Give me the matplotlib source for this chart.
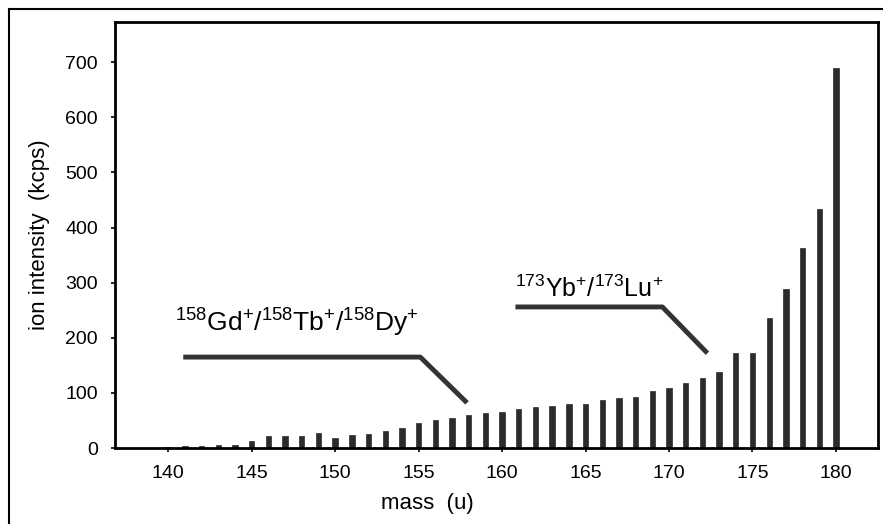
import numpy as np
import matplotlib.pyplot as plt
from matplotlib.lines import Line2D

plt.rcParams['font.family'] = ['Liberation Sans', 'DejaVu Sans']
plt.rcParams['mathtext.fontset'] = 'custom'
plt.rcParams['mathtext.rm'] = 'Liberation Sans'
plt.rcParams['mathtext.it'] = 'Liberation Sans:italic'

# data
mass = np.arange(140, 181)
intensity = [1, 3, 3, 5, 6, 12, 22, 22, 22, 28,
             18, 24, 26, 30, 37, 46, 50, 54, 60, 64,
             66, 70, 74, 77, 80, 80, 87, 90, 92, 103,
             108, 118, 127, 138, 172, 173, 236, 288, 363, 434,
             690]

x_ticks = [140, 145, 150, 155, 160, 165, 170, 175, 180]
y_ticks = [0, 100, 200, 300, 400, 500, 600, 700]

label_1 = r'$^{158}$Gd$^{+}$/$^{158}$Tb$^{+}$/$^{158}$Dy$^{+}$'
label_2 = r'$^{173}$Yb$^{+}$/$^{173}$Lu$^{+}$'

fig = plt.figure(figsize=(8.83, 5.24), dpi=100)
ax = fig.add_axes([0.130, 0.145, 0.864, 0.813])

ax.bar(mass, intensity, width=0.32, color='#2b2b2b', edgecolor='#2b2b2b', linewidth=0.5)

ax.set_xlim(136.8, 182.5)
ax.set_ylim(0, 773)
ax.set_xticks(x_ticks)
ax.set_yticks(y_ticks)
ax.tick_params(direction='out', length=3, width=1.2, labelsize=14, pad=9)
for s in ax.spines.values():
    s.set_linewidth(2)

ax.set_xlabel('mass  (u)', fontsize=16)
ax.xaxis.set_label_coords(0.41, -0.105)
ax.set_ylabel('ion intensity  (kcps)', fontsize=16)
ax.yaxis.set_label_coords(-0.085, 0.5)

# annotation leaders
ax.plot([140.9, 155.1, 157.9], [165, 165, 82], color='#333333', lw=3.5, solid_capstyle='butt')
ax.plot([160.8, 169.6, 172.3], [256, 256, 172], color='#333333', lw=3.5, solid_capstyle='butt')
ax.text(140.4, 212, label_1, fontsize=19, ha='left', va='baseline')
ax.text(160.8, 274, label_2, fontsize=18, ha='left', va='baseline')

# outer frame of the scanned figure
fig.add_artist(Line2D([0.010, 0.010], [0.0, 0.983], color='black', lw=1.5, transform=fig.transFigure))
fig.add_artist(Line2D([0.010, 1.0], [0.983, 0.983], color='black', lw=1.5, transform=fig.transFigure))

fig.savefig('out.png', dpi=100)
